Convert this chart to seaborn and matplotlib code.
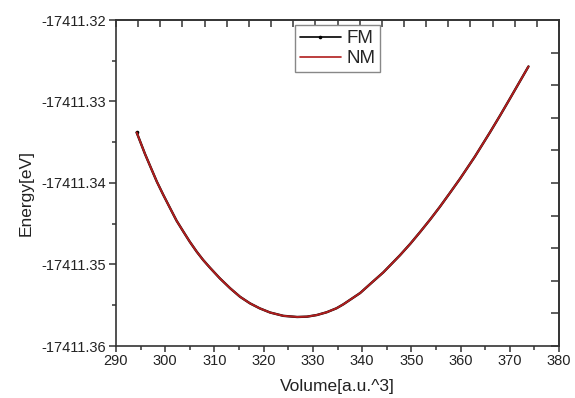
import pandas as pd
import seaborn as sns
import matplotlib.pyplot as plt
from matplotlib.ticker import FormatStrFormatter, MultipleLocator
import numpy as np

# values
volume = [294.2, 295.9, 297.1, 298.3, 299.6, 301.0, 302.3, 303.7, 305.0, 306.4,
          307.7, 309.1, 311.1, 313.2, 315.2, 317.2, 319.2, 321.3, 324.0, 326.8,
          328.8, 330.8, 332.8, 334.8, 336.2, 339.6, 342.0, 344.3, 347.7, 349.8,
          351.8, 353.8, 355.8, 357.8, 359.9, 362.9, 366.0, 368.0, 370.0, 373.8]
energy_fm = [-17411.33380, -17411.33645, -17411.33815, -17411.33984, -17411.34145,
             -17411.34310, -17411.34462, -17411.34598, -17411.34722, -17411.34843,
             -17411.34944, -17411.35040, -17411.35170, -17411.35292, -17411.35396,
             -17411.35476, -17411.35538, -17411.35589, -17411.35630, -17411.35644,
             -17411.35640, -17411.35620, -17411.35586, -17411.35537, -17411.35488,
             -17411.35350, -17411.35220, -17411.35097, -17411.34886, -17411.34745,
             -17411.34600, -17411.34450, -17411.34292, -17411.34125, -17411.33947,
             -17411.33677, -17411.33376, -17411.33175, -17411.32968, -17411.32570]
energy_nm = list(energy_fm)

fm = pd.DataFrame({'Volume': volume, 'Energy': energy_fm})
nm = pd.DataFrame({'Volume': volume, 'Energy': energy_nm})

sns.set_style('ticks')
plt.rcParams['font.family'] = ['Liberation Sans', 'DejaVu Sans']

fig = plt.figure(figsize=(5.75, 3.98), dpi=100)
ax = fig.add_axes([116/575, 1-346/398, (559-116)/575, (346-20)/398])

sns.lineplot(x='Volume', y='Energy', data=fm, color='black', linewidth=1.7,
             marker='o', markersize=2.6, markeredgewidth=0, markevery=[0],
             label='FM', ax=ax)
sns.lineplot(x='Volume', y='Energy', data=nm, color='#b01e1e', linewidth=1.4,
             label='NM', ax=ax)

ax.set_xlim(290, 380)
ax.set_ylim(-17411.36, -17411.32)
ax.xaxis.set_major_locator(MultipleLocator(10))
ax.xaxis.set_minor_locator(MultipleLocator(5))
ax.yaxis.set_major_locator(MultipleLocator(0.01))
ax.yaxis.set_minor_locator(MultipleLocator(0.005))
ax.yaxis.set_major_formatter(FormatStrFormatter('%.2f'))

for s in ax.spines.values():
    s.set_color('#333333')
    s.set_linewidth(1.2)
    s.set_visible(True)

ax.tick_params(which='major', direction='out', length=5, width=1.1,
               color='#333333', labelsize=10.5, labelcolor='#222222', pad=2)
ax.tick_params(which='minor', direction='out', length=3, width=1.1, color='#333333')
ax.tick_params(axis='x', which='major', length=4)

top = ax.secondary_xaxis('top')
top.set_xticks(np.arange(290, 380.01, 4.5))
top.set_xticklabels([])
top.tick_params(direction='in', length=5, width=1.1, color='#333333')
top.spines['top'].set_color('#333333')
top.spines['top'].set_linewidth(1.2)

right = ax.secondary_yaxis('right')
right.set_yticks(np.arange(-17411.36, -17411.3199, 0.004))
right.set_yticklabels([])
right.tick_params(direction='in', length=6, width=1.1, color='#333333')
right.spines['right'].set_color('#333333')
right.spines['right'].set_linewidth(1.2)

ax.set_xlabel('Volume[a.u.^3]', fontsize=12.5, color='#222222', labelpad=8)
ax.set_ylabel('Energy[eV]', fontsize=12.5, color='#222222')
ax.yaxis.set_label_coords(-0.187, 0.47)

leg = ax.legend(loc='upper center', bbox_to_anchor=(0.5, 0.995), fontsize=13.5,
                frameon=True, fancybox=False, framealpha=1, edgecolor='#888888',
                handlelength=2.2, handletextpad=0.3, labelspacing=0.15,
                borderpad=0.25, borderaxespad=0.2)
leg.get_frame().set_linewidth(1.0)
for h in leg.get_lines():
    h.set_linewidth(1.2)

plt.savefig('out.png', dpi=100)
